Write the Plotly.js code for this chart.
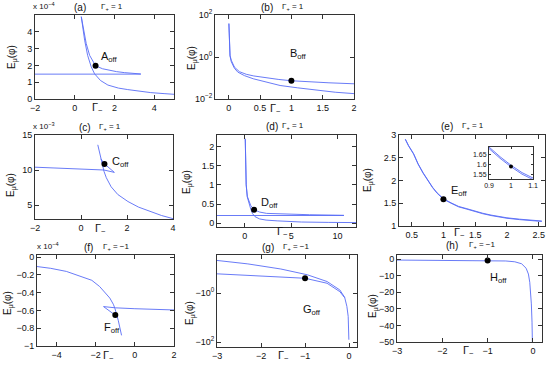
<!DOCTYPE html>
<html>
<head>
<meta charset="utf-8">
<script src="https://cdn.plot.ly/plotly-3.0.1.min.js"></script>
<style>
  html, body { margin: 0; padding: 0; background: #fff; }
  #plot { width: 560px; height: 365px; }
</style>
</head>
<body>
<div id="plot"></div>
<script>
// ---- values ----

// (a) E in units of 1e-4
const aFlatX = [-2, 3.33];
const aFlatY = [1.48, 1.48];
const aUpperX = [0.33, 0.45, 0.58, 0.75, 1.05, 1.4, 1.67, 2.1, 2.5, 3.0, 3.33];
const aUpperY = [4.9, 4.0, 3.3, 2.6, 1.98, 1.8, 1.72, 1.63, 1.57, 1.52, 1.49];
const aLowerX = [0.33, 0.42, 0.5, 0.65, 0.83, 1.0, 1.3, 1.67, 2.2, 2.67, 3.3, 3.83, 4.5, 5];
const aLowerY = [4.9, 4.1, 3.5, 2.6, 1.92, 1.5, 1.1, 0.83, 0.65, 0.56, 0.45, 0.38, 0.32, 0.28];
const aDot = [1.05, 1.98];

// (b) log scale
const bUpperX = [0.002, 0.005, 0.01, 0.02, 0.04, 0.09, 0.17, 0.28, 0.4, 0.6, 0.8, 1.0, 1.3, 1.6, 2.0];
const bUpperY = [40, 9, 2.3, 1.2, 0.7, 0.33, 0.2, 0.15, 0.125, 0.1, 0.085, 0.074, 0.065, 0.059, 0.053];
const bLowerX = [0.002, 0.005, 0.01, 0.02, 0.04, 0.09, 0.145, 0.25, 0.39, 0.6, 0.82, 1.1, 1.35, 1.7, 2.0];
const bLowerY = [38, 8.5, 2.1, 1.1, 0.6, 0.29, 0.19, 0.13, 0.092, 0.062, 0.044, 0.034, 0.027, 0.021, 0.018];
const bDot = [1.0, 0.074];

// (c) E in units of 1e-3
const cFlatX = [-2, -1, 0, 1, 1.45];
const cFlatY = [10.4, 10.28, 10.17, 10.0, 9.66];
const cCuspX = [1.45, 1.2, 1.02, 0.86];
const cCuspY = [9.66, 10.35, 10.87, 11.6];
const cSteepX = [0.73, 0.8, 0.87, 0.93, 1.0, 1.1, 1.31, 1.6, 2.04, 2.5, 3.05, 3.5, 4.0];
const cSteepY = [13.6, 12.6, 11.5, 10.6, 9.8, 8.9, 7.6, 6.5, 5.5, 4.7, 4.04, 3.5, 3.05];
const cDot = [1.02, 10.87];

// (d)
const dFlatX = [-3, 10.7];
const dFlatY = [0.2, 0.2];
const dUpperX = [0.05, 0.08, 0.15, 0.27, 0.45, 0.64, 1.02, 1.6, 2.35, 4.2, 7, 10.7];
const dUpperY = [2.2, 1.6, 1.0, 0.7, 0.55, 0.46, 0.35, 0.29, 0.255, 0.235, 0.22, 0.205];
const dLowerX = [0.05, 0.08, 0.15, 0.27, 0.45, 0.64, 0.83, 1.1, 1.6, 2.3, 3.5, 6.1, 9, 12];
const dLowerY = [2.2, 1.6, 1.0, 0.68, 0.5, 0.37, 0.25, 0.17, 0.11, 0.08, 0.06, 0.03, 0.02, 0.015];
const dDot = [1.0, 0.35];

// (e) two nearly coincident branches
const eX = [0.4, 0.45, 0.53, 0.6, 0.68, 0.75, 0.83, 0.9, 1.0, 1.12, 1.24, 1.37, 1.49, 1.62, 1.75, 1.9, 2.0, 2.2, 2.44, 2.55];
const eY1 = [2.9, 2.76, 2.58, 2.36, 2.16, 2.0, 1.84, 1.72, 1.59, 1.5, 1.42, 1.37, 1.32, 1.27, 1.23, 1.19, 1.17, 1.14, 1.11, 1.1];
const eY2 = [2.91, 2.77, 2.59, 2.37, 2.17, 2.01, 1.85, 1.73, 1.6, 1.51, 1.43, 1.38, 1.33, 1.28, 1.24, 1.2, 1.18, 1.15, 1.12, 1.11];
const eDot = [1.0, 1.59];
const insetX = [0.9, 0.95, 1.0, 1.05, 1.1];
const insetY1 = [1.682, 1.632, 1.588, 1.55, 1.522];
const insetY2 = [1.69, 1.64, 1.596, 1.558, 1.53];

// (f) E in units of 1e-4
const fLongX = [-5, -4.3, -3.5, -2.65, -2.2, -1.8, -1.5, -1.28, -1.1, -1.02, -0.85, -0.68];
const fLongY = [-0.105, -0.125, -0.16, -0.22, -0.26, -0.33, -0.4, -0.46, -0.53, -0.575, -0.71, -0.88];
const fFlatX = [-1.6, -1.0, 0, 1, 2];
const fFlatY = [-0.556, -0.57, -0.58, -0.588, -0.594];
const fCuspX = [-1.6, -1.3, -1.02, -0.9];
const fCuspY = [-0.556, -0.6, -0.65, -0.68];
const fDot = [-1.0, -0.65];

// (g) magnitudes of negative E, drawn on a reversed log axis
const gUpperX = [-3, -2.3, -1.55, -0.95, -0.5, -0.21, -0.1, -0.05, -0.02, -0.005];
const gUpperY = [0.047, 0.065, 0.105, 0.18, 0.34, 0.75, 1.5, 3.5, 9, 80];
const gLowerX = [-3, -2, -1, -0.5, -0.21, -0.1];
const gLowerY = [0.165, 0.2, 0.25, 0.4, 0.88, 1.55];
const gDot = [-1.0, 0.25];

// (h)
const hX = [-3, -2, -1, -0.6, -0.4, -0.25, -0.15, -0.1, -0.07, -0.05, -0.035, -0.02, -0.012];
const hY = [-0.55, -0.65, -0.85, -1.1, -1.6, -2.8, -5.5, -9, -14, -20, -27, -38, -50];
const hDot = [-1.0, -0.85];

// ---- layout helpers ----
const W = 560, H = 365;
const FONT = 'Liberation Sans, Arial, sans-serif';
const BLUE = 'rgb(88, 108, 246)';

// pixel boxes [left, right, top, bottom]
const boxes = [
    [35, 174, 15, 99],     // a
    [215, 354, 15, 99],    // b
    [35, 173, 135, 219],   // c
    [217, 356, 135, 227],  // d
    [399, 545, 135, 226],  // e
    [37, 174, 255, 346],   // f
    [217, 357, 255, 347],  // g
    [397, 542, 255, 342],  // h
    [489, 533, 147, 179]   // inset of e
];

function axName(i, letter) {
    return i === 1 ? letter : letter + i;
}

function line(x, y, i) {
    return {
        x: x, y: y, type: 'scatter', mode: 'lines',
        xaxis: axName(i, 'x'), yaxis: axName(i, 'y'),
        line: { color: BLUE, width: 0.9 },
        hoverinfo: 'skip'
    };
}

function dot(p, i, size) {
    return {
        x: [p[0]], y: [p[1]], type: 'scatter', mode: 'markers',
        xaxis: axName(i, 'x'), yaxis: axName(i, 'y'),
        marker: { color: '#000', size: size || 6 },
        hoverinfo: 'skip'
    };
}

const traces = [
    line(aFlatX, aFlatY, 1), line(aUpperX, aUpperY, 1), line(aLowerX, aLowerY, 1), dot(aDot, 1),
    line(bUpperX, bUpperY, 2), line(bLowerX, bLowerY, 2), dot(bDot, 2),
    line(cFlatX, cFlatY, 3), line(cCuspX, cCuspY, 3), line(cSteepX, cSteepY, 3), dot(cDot, 3),
    line(dFlatX, dFlatY, 4), line(dUpperX, dUpperY, 4), line(dLowerX, dLowerY, 4), dot(dDot, 4),
    line(eX, eY1, 5), line(eX, eY2, 5), dot(eDot, 5),
    line(fLongX, fLongY, 6), line(fFlatX, fFlatY, 6), line(fCuspX, fCuspY, 6), dot(fDot, 6),
    line(gUpperX, gUpperY, 7), line(gLowerX, gLowerY, 7), dot(gDot, 7),
    line(hX, hY, 8), dot(hDot, 8),
    line(insetX, insetY1, 9), line(insetX, insetY2, 9), dot(eDot, 9, 4)
];

// axis ranges and ticks per panel
const axisSpecs = [
    { x: { range: [-2, 5], tickvals: [-2, 0, 2, 4] }, y: { range: [0, 5], tickvals: [0, 1, 2, 3, 4] } },
    { x: { range: [-0.22, 2], tickvals: [0, 0.5, 1, 1.5, 2] },
      y: { type: 'log', range: [-2, 2], tickvals: [0.01, 1, 100],
           ticktext: ['10<sup>\u22122</sup>', '10<sup>0</sup>', '10<sup>2</sup>'] } },
    { x: { range: [-2, 4], tickvals: [-2, 0, 2, 4] }, y: { range: [3, 15], tickvals: [5, 10, 15] } },
    { x: { range: [-3, 12], tickvals: [0, 5, 10] }, y: { range: [-0.1, 2.3], tickvals: [0, 0.5, 1, 1.5, 2] } },
    { x: { range: [0.3, 2.6], tickvals: [0.5, 1, 1.5, 2, 2.5] }, y: { range: [1, 3], tickvals: [1, 1.5, 2, 2.5, 3] } },
    { x: { range: [-5, 2], tickvals: [-4, -2, 0, 2] }, y: { range: [-1, 0.025], tickvals: [-1, -0.8, -0.6, -0.4, -0.2, 0] } },
    { x: { range: [-3, 0.18], tickvals: [-3, -2, -1, 0] },
      y: { type: 'log', range: [2.2, -1.55], tickvals: [1, 100],
           ticktext: ['\u221210<sup>0</sup>', '\u221210<sup>2</sup>'] } },
    { x: { range: [-3, 0.2], tickvals: [-3, -2, -1, 0] }, y: { range: [-50, 2.5], tickvals: [-50, -40, -30, -20, -10, 0] } },
    { x: { range: [0.9, 1.1], tickvals: [0.9, 1, 1.1] }, y: { range: [1.525, 1.69], tickvals: [1.55, 1.6, 1.65] } }
];

const layout = {
    width: W, height: H,
    margin: { l: 0, r: 0, t: 0, b: 0 },
    paper_bgcolor: 'white',
    plot_bgcolor: 'white',
    showlegend: false,
    annotations: []
};

boxes.forEach((b, k) => {
    const i = k + 1;
    const spec = axisSpecs[k];
    const small = i === 9;
    const common = {
        showline: true, mirror: 'ticks', linecolor: '#333', linewidth: 1,
        ticks: 'inside', ticklen: small ? 2 : 4, tickcolor: '#333',
        showgrid: false, zeroline: false, fixedrange: true,
        tickfont: { family: FONT, size: small ? 7 : 9, color: '#111' },
        tickmode: 'array'
    };
    layout[axName(i, 'xaxis')] = Object.assign({}, common, spec.x, {
        domain: [b[0] / W, b[1] / W], anchor: axName(i, 'y')
    });
    layout[axName(i, 'yaxis')] = Object.assign({}, common, spec.y, {
        domain: [1 - b[3] / H, 1 - b[2] / H], anchor: axName(i, 'x')
    });
});

// text placed in pixel coordinates
function note(text, x, y, size, extra) {
    layout.annotations.push(Object.assign({
        text: text, xref: 'paper', yref: 'paper',
        x: x / W, y: 1 - y / H, showarrow: false,
        xanchor: 'center', yanchor: 'middle',
        font: { family: FONT, size: size, color: '#111' }
    }, extra || {}));
}

const panelTags = ['(a)', '(b)', '(c)', '(d)', '(e)', '(f)', '(g)', '(h)'];
const gammaPlus = ['1', '1', '1', '1', '1', '\u22121', '\u22121', '\u22121'];
const tagPos = [[80, 7], [267, 7], [85, 127], [272, 126], [447, 126], [88, 247], [268, 247], [452, 245]];
const gammaPos = [[112, 7], [293, 7], [110, 127], [293, 126], [473, 126], [116, 247], [296, 247], [482, 245]];
const yLabelPos = [[12, 57], [192, 58], [11, 185], [188, 182], [368, 180], [8, 303], [190, 313], [373, 306]];
const xLabelPos = [[97, 108], [275, 109], [100, 229], [282, 232], [459, 233], [108, 356], [283, 356], [468, 351]];

panelTags.forEach((tag, k) => {
    note(tag, tagPos[k][0], tagPos[k][1], 10);
    note('\u0393<sub>+</sub> = ' + gammaPlus[k], gammaPos[k][0], gammaPos[k][1], 8);
    note('E<sub>\u03bc</sub>(\u03c6)', yLabelPos[k][0], yLabelPos[k][1], 10, { textangle: -90 });
    note('\u0393<sub>\u2212</sub>', xLabelPos[k][0], xLabelPos[k][1], 11);
});

// scale factors
note('x 10<sup>\u22124</sup>', 44, 6, 8);
note('x 10<sup>\u22123</sup>', 44, 126, 8);
note('x 10<sup>\u22124</sup>', 48, 246, 8);

// point names
const pointNames = ['A', 'B', 'C', 'D', 'E', 'F', 'G', 'H'];
const pointPos = [[99, 57], [288, 54], [110, 162], [259, 203], [449, 191], [102, 328], [301, 310], [488, 278]];
pointNames.forEach((n, k) => {
    note(n + '<sub>off</sub>', pointPos[k][0], pointPos[k][1], 11, { xanchor: 'left' });
});

Plotly.newPlot('plot', traces, layout, { staticPlot: true, displayModeBar: false });
</script>
</body>
</html>
